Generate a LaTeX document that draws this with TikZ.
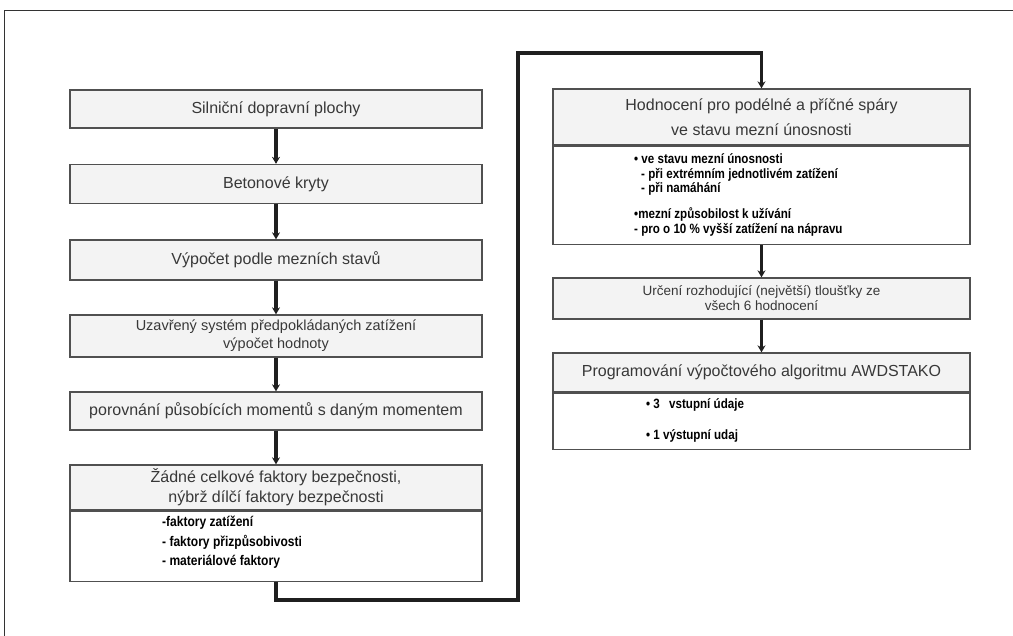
\documentclass[tikz,border=0pt]{standalone}
\usepackage{fontspec}
\setmainfont{Liberation Sans}
\newfontfamily\narrowfont[FakeStretch=0.86]{Liberation Sans}
\usetikzlibrary{arrows.meta}
\definecolor{boxgray}{HTML}{505050}
\definecolor{hdrfill}{HTML}{F3F3F3}
\definecolor{txtgray}{HTML}{383838}
\definecolor{framecol}{HTML}{333333}
\begin{document}
\begin{tikzpicture}[x=1pt,y=-1pt,
  hdr/.style={draw=boxgray, line width=1.3pt, fill=hdrfill, text=txtgray,
    font=\fontsize{16}{20}\selectfont, align=center, inner sep=0pt},
  lst/.style={draw=boxgray, line width=1.3pt, fill=white, inner sep=0pt},
  lsttxt/.style={font=\narrowfont\bfseries\fontsize{14}{19.5}\selectfont, align=left, inner sep=0pt, anchor=west},
  conn/.style={line width=3.4pt, draw=black!88, line join=miter, -{Stealth[length=7pt,width=8pt]}},
  lw/.style={minimum width=412pt},
  rw/.style={minimum width=417pt}]
\useasboundingbox (0,0) rectangle (1013,636);
\fill[white] (0,0) rectangle (1013,636);
\draw[framecol, line width=1pt] (4,636) -- (4,11) -- (1013,11);

% left column
\node[hdr, lw, minimum height=38pt] (b1) at (276,109) {Silniční dopravní plochy};
\node[hdr, lw, minimum height=39pt] (b2) at (276,184) {Betonové kryty};
\node[hdr, lw, minimum height=40pt] (b3) at (276,260) {Výpočet podle mezních stavů};
\node[hdr, lw, minimum height=42pt, font=\fontsize{14.5}{18}\selectfont] (b4) at (276,336) {Uzavřený systém předpokládaných zatížení\\výpočet hodnoty};
\node[hdr, lw, minimum height=38pt] (b5) at (276,411) {porovnání působících momentů s daným momentem};
\node[hdr, lw, minimum height=45pt] (b6) at (276,487.5) {Žádné celkové faktory bezpečnosti,\\nýbrž dílčí faktory bezpečnosti};
\node[lst, lw, minimum height=70pt, anchor=north] (b6l) at (b6.south) {};
\node[lsttxt] (t6) at (162,542.5) {-faktory zatížení\\- faktory přizpůsobivosti\\- materiálové faktory};

% right column
\node[hdr, rw, minimum height=56pt, font=\fontsize{16}{25}\selectfont] (r1) at (761.5,117) {Hodnocení pro podélné a příčné spáry\\ve stavu mezní únosnosti};
\node[lst, rw, minimum height=98pt, anchor=north] (r1l) at (r1.south) {};
\node[lsttxt, font=\narrowfont\bfseries\fontsize{13.5}{14.5}\selectfont] (t1) at (634,195) {• ve stavu mezní únosnosti\\\hspace*{7pt}- při extrémním jednotlivém zatížení\\\hspace*{7pt}- při namáhání\\[11.5pt]•mezní způsobilost k užívání\\- pro o 10 \% vyšší zatížení na nápravu};
\node[hdr, rw, minimum height=41pt, font=\fontsize{13.5}{15}\selectfont] (r2) at (761.5,298.5) {Určení rozhodující (největší) tloušťky ze\\všech 6 hodnocení};
\node[hdr, rw, minimum height=39pt] (r3) at (761.5,372.5) {Programování výpočtového algoritmu AWDSTAKO};
\node[lst, rw, minimum height=56pt, anchor=north] (r3l) at (r3.south) {};
\node[lsttxt, font=\narrowfont\bfseries\fontsize{13.5}{15}\selectfont] (t3a) at (646,405) {• 3\hspace{6pt} vstupní údaje};
\node[lsttxt, font=\narrowfont\bfseries\fontsize{13.5}{15}\selectfont] (t3b) at (646,436) {• 1 výstupní udaj};

% connectors
\draw[conn] (b1.south) -- (b2.north);
\draw[conn] (b2.south) -- (b3.north);
\draw[conn] (b3.south) -- (b4.north);
\draw[conn] (b4.south) -- (b5.north);
\draw[conn] (b5.south) -- (b6.north);
\coordinate (c1) at (518,600);
\coordinate (c2) at (518,53);
\draw[conn] (b6l.south) |- (c1) -- (c2) -| (r1.north);
\draw[conn] (r1l.south) -- (r2.north);
\draw[conn] (r2.south) -- (r3.north);
\end{tikzpicture}
\end{document}
